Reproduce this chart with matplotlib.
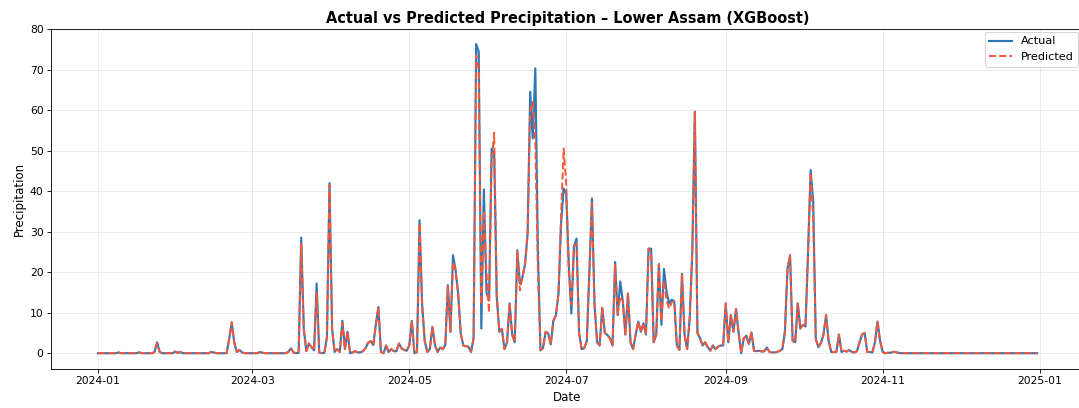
import pandas as pd
import matplotlib.pyplot as plt
import matplotlib.dates as mdates

# daily precipitation, 2024-01-01 .. 2024-12-31 (366 days)
actual = [
    0, 0, 0, 0, 0, 0, 0, 0, 0.2, 0,
    0, 0, 0, 0, 0, 0, 0.2, 0, 0, 0,
    0, 0, 0.3, 2.7, 0.3, 0, 0, 0, 0, 0,
    0.4, 0.1, 0.3, 0, 0, 0, 0, 0, 0, 0,
    0, 0, 0, 0, 0.3, 0.2, 0, 0, 0, 0,
    0, 3.5, 7.5, 2.5, 0.3, 0.8, 0.2, 0, 0, 0,
    0, 0, 0, 0.3, 0.1, 0, 0, 0, 0, 0,
    0, 0, 0, 0, 0.3, 1.2, 0.2, 0, 0.1, 28.5,
    6, 0.5, 2.4, 1.5, 0.7, 17.2, 0.2, 0, 0.1, 4,
    42, 6, 0.3, 1, 0.3, 8, 1, 5.3, 0, 0.2,
    0.5, 0.2, 0.2, 0.5, 1.2, 2.6, 3, 2, 7, 11.4,
    0.3, 0, 1.9, 0.3, 1, 0.5, 0.5, 2.4, 1.2, 0.8,
    0.6, 1.9, 8, 0, 0.3, 32.8, 12, 3, 0.3, 1,
    6.5, 2, 0.3, 1.4, 1, 2, 16.8, 5.3, 24.2, 20.5,
    14.7, 4.9, 1.9, 1.7, 1.6, 0.3, 3.7, 76.3, 74.4, 6.1,
    40.4, 15, 13, 50.5, 49, 14, 5.3, 6, 1, 2.7,
    12.3, 4.6, 2.7, 25.4, 17.2, 18.8, 22, 29.5, 64.5, 53,
    70.3, 25, 0.7, 1.3, 5.3, 4.9, 2.2, 8, 9.4, 14.7,
    32, 40.6, 39.4, 21.8, 9.8, 26.3, 28.3, 5, 1, 1.2,
    3, 20, 38.2, 12, 2.7, 1.9, 11.2, 5, 4.5, 3.7,
    1.9, 22.5, 9.4, 17.7, 12.8, 4.6, 14.7, 2.7, 1, 4.6,
    7.8, 5.3, 7.4, 4.6, 25.8, 25.8, 2.7, 4.6, 22, 7,
    20.8, 15.1, 12.3, 13.2, 12.8, 1.9, 0.8, 19.6, 4.6, 1,
    8.6, 25, 59.6, 5, 3.7, 1.9, 2.7, 1.5, 0.6, 1.9,
    1, 1.6, 1.9, 1.9, 12.3, 2.7, 9.4, 5.3, 10.9, 5,
    0, 3.7, 4.3, 2.3, 5.1, 0.6, 0.5, 0.6, 0.4, 0.5,
    1.4, 0.3, 0.2, 0.2, 0.3, 0.6, 1, 5.3, 20.8, 24.2,
    3, 2.7, 12.3, 6.1, 7, 6.6, 25, 45.2, 37.4, 3.5,
    1.5, 2.5, 4.6, 9.4, 3, 0.3, 0.3, 0.3, 4.6, 0.3,
    0.6, 0.4, 0.8, 0.3, 0.2, 0.5, 2.7, 4.6, 5, 0.3,
    0.3, 0.2, 2.7, 7.8, 3, 0.3, 0, 0.1, 0.1, 0.3,
    0.3, 0.1, 0, 0, 0, 0, 0, 0, 0, 0,
    0, 0, 0, 0, 0, 0, 0, 0, 0, 0,
    0, 0, 0, 0, 0, 0, 0, 0, 0, 0,
    0, 0, 0, 0, 0, 0, 0, 0, 0, 0,
    0, 0, 0, 0, 0, 0, 0, 0, 0, 0,
    0, 0, 0, 0, 0, 0,
]

predicted = [
    0, 0, 0, 0, 0, 0, 0, 0, 0.2, 0,
    0, 0, 0, 0, 0, 0, 0.2, 0, 0, 0,
    0, 0, 0.3, 2.5, 0.3, 0, 0, 0, 0, 0,
    0.4, 0.1, 0.3, 0, 0, 0, 0, 0, 0, 0,
    0, 0, 0, 0, 0.3, 0.2, 0, 0, 0, 0,
    0, 3.5, 7.7, 2.5, 0.3, 0.8, 0.2, 0, 0, 0,
    0, 0, 0, 0.3, 0.1, 0, 0, 0, 0, 0,
    0, 0, 0, 0, 0.3, 1.2, 0.2, 0, 0.1, 27,
    6, 0.5, 2.4, 1.5, 0.7, 15, 0.2, 0, 0.1, 4,
    41.5, 6, 0.3, 1, 0.3, 7.5, 1, 5.3, 0, 0.2,
    0.5, 0.2, 0.2, 0.5, 1.2, 2.6, 3, 2, 7, 11.4,
    0.3, 0, 1.9, 0.3, 1, 0.5, 0.5, 2.4, 1.2, 0.8,
    0.6, 1.9, 8, 0, 0.3, 32, 12, 3, 0.3, 1,
    6.5, 2, 0.3, 1.4, 1, 2, 16.5, 5.3, 22.5, 20.5,
    14.7, 4.9, 1.9, 1.7, 1.6, 0.3, 3.7, 73.5, 70, 12,
    35, 20, 10, 47, 54.4, 14, 5.3, 6, 1, 2.7,
    12.3, 4.6, 2.7, 25, 15.5, 18.8, 22, 29.5, 60, 62,
    52, 20, 0.7, 1.3, 5.3, 4.9, 2.2, 8, 9.4, 14.7,
    34, 50.5, 42, 20, 12, 26.3, 27, 5, 1, 1.2,
    3, 20, 37, 12, 2.7, 1.9, 11.2, 5, 4.5, 3.7,
    1.9, 22, 9.4, 14, 12.8, 4.6, 14.7, 2.7, 1, 4.6,
    7.8, 5.3, 7.4, 4.6, 25.8, 25, 2.7, 4.6, 22, 8,
    18, 13, 11, 12.5, 12.8, 1.9, 0.8, 19.6, 4.6, 1,
    8.6, 25, 59.6, 5, 3.7, 1.9, 2.7, 1.5, 0.6, 1.9,
    1, 1.6, 1.9, 1.9, 12.3, 2.7, 9.4, 5.3, 10.9, 5,
    0, 3.7, 4.3, 2.3, 5.1, 0.6, 0.5, 0.6, 0.4, 0.5,
    1.4, 0.3, 0.2, 0.2, 0.3, 0.6, 1, 5.3, 20.8, 24.2,
    3, 2.7, 12.3, 6.1, 7, 6.6, 25, 44.5, 33, 3.5,
    1.5, 2.5, 4.6, 9.4, 3, 0.3, 0.3, 0.3, 4.6, 0.3,
    0.6, 0.4, 0.8, 0.3, 0.2, 0.5, 2.7, 4.6, 5, 0.3,
    0.3, 0.2, 2.7, 7.8, 3, 0.3, 0, 0.1, 0.1, 0.3,
    0.3, 0.1, 0, 0, 0, 0, 0, 0, 0, 0,
    0, 0, 0, 0, 0, 0, 0, 0, 0, 0,
    0, 0, 0, 0, 0, 0, 0, 0, 0, 0,
    0, 0, 0, 0, 0, 0, 0, 0, 0, 0,
    0, 0, 0, 0, 0, 0, 0, 0, 0, 0,
    0, 0, 0, 0, 0, 0,
]

dates = pd.date_range("2024-01-01", "2024-12-31", freq="D")

fig, ax = plt.subplots(figsize=(1079 / 77, 408 / 77), dpi=77)
# the right edge of the axes runs just past the picture, as in the original crop
fig.subplots_adjust(left=51 / 1079, right=1084 / 1079, top=1 - 29 / 408, bottom=1 - 369 / 408)

ax.plot(dates, actual, color="#2f78b5", linewidth=2, label="Actual")
ax.plot(dates, predicted, color="#f4583a", linewidth=1.8, linestyle="--", label="Predicted")

ax.set_title("Actual vs Predicted Precipitation \u2013 Lower Assam (XGBoost)", fontsize=13.6, fontweight="bold")
ax.set_xlabel("Date", fontsize=11)
ax.set_ylabel("Precipitation", fontsize=11)

ax.xaxis.set_major_locator(mdates.MonthLocator(bymonth=[1, 3, 5, 7, 9, 11]))
ax.xaxis.set_major_formatter(mdates.DateFormatter("%Y-%m"))
ax.set_ylim(-3.9, 80)
ax.tick_params(labelsize=10)

ax.grid(True, alpha=0.3)
ax.legend(loc="upper right", fontsize=10.5, bbox_to_anchor=(1078 / 1079, 1 - 32 / 408),
          bbox_transform=fig.transFigure, borderaxespad=0)

plt.savefig("out.png", dpi=77)
